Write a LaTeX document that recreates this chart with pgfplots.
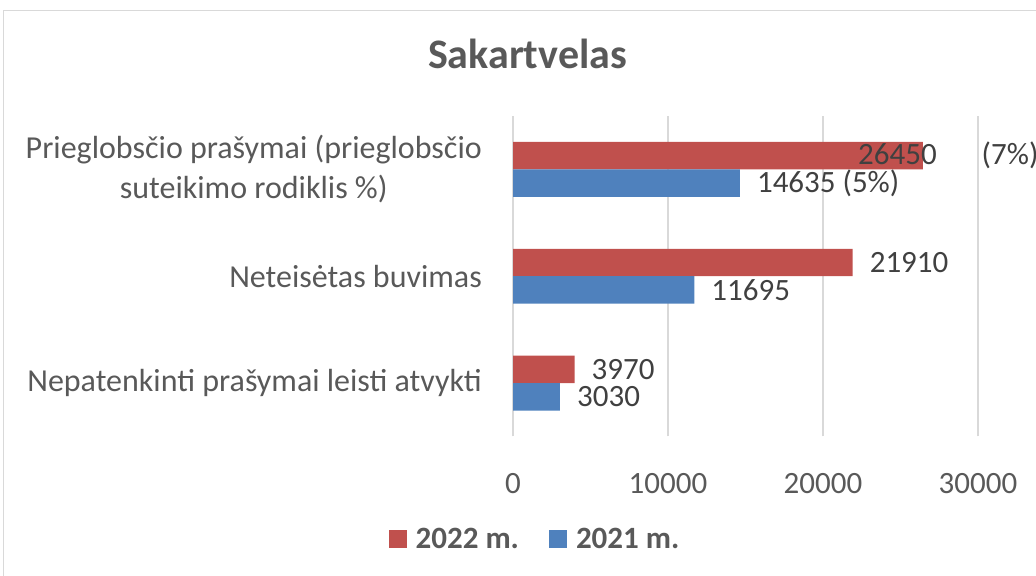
\documentclass[border=0pt]{standalone}
\usepackage{fontspec}
\setmainfont{Carlito}
\usepackage{pgfplots}
\pgfplotsset{compat=1.18}
\definecolor{cred}{HTML}{C0504D}
\definecolor{cblue}{HTML}{4F81BD}
\definecolor{txtgray}{HTML}{595959}
\definecolor{lblgray}{HTML}{404040}
\definecolor{gridgray}{HTML}{D9D9D9}
\begin{document}
\begin{tikzpicture}
\useasboundingbox (0bp,0bp) rectangle (1036bp,576bp);
\draw[gridgray, line width=1.5bp] (3.5bp,-20bp) rectangle (1060bp,565.5bp);
\node[anchor=base, text=txtgray, font=\fontsize{42bp}{50bp}\selectfont\bfseries, inner sep=0pt] at (527.5bp,507bp) {Sakartvelas};
\begin{axis}[
  at={(513bp,139.5bp)}, anchor=south west,
  scale only axis, width=465bp, height=320.5bp,
  xbar, bar width=0.257,
  xmin=0, xmax=30000, ymin=-0.5, ymax=2.5,
  scaled ticks=false,
  xtick={0,10000,20000,30000},
  xticklabels={0,10000,20000,30000},
  ytick={0,1,2},
  yticklabels={{Nepatenkinti prašymai leisti atvykti},{Neteisėtas buvimas},{Prieglobsčio prašymai (prieglobsčio\\suteikimo rodiklis \%)}},
  yticklabel style={align=center, anchor=east, inner sep=0pt, xshift=-31bp, text=txtgray, font=\fontsize{32bp}{40bp}\selectfont},
  xticklabel style={anchor=base, inner sep=0pt, yshift=-56.5bp, text=txtgray, font=\fontsize{31bp}{37bp}\selectfont},
  major tick length=0pt,
  axis line style={draw=none},
  xmajorgrids, grid style={gridgray, line width=1.3bp},
  clip=false,
  point meta=explicit symbolic,
  nodes near coords,
  every node near coord/.append style={anchor=west, inner sep=0pt, xshift=17bp, text=lblgray, font=\fontsize{31bp}{37bp}\selectfont},
  legend columns=2,
  legend image code/.code={\fill[#1, draw=none] (0bp,-9bp) rectangle (18bp,9bp);},
  legend style={at={(0.0452,-0.3198)}, anchor=center, draw=none, fill=none,
    font=\fontsize{31bp}{37bp}\selectfont\bfseries, text=txtgray,
    nodes={inner sep=0pt}, column sep=0pt,
    /tikz/every odd column/.append style={column sep=9bp},
    /tikz/every even column/.append style={column sep=30bp}},
]
\addplot[fill=cred, draw=none, bar shift=0.1285] coordinates {
  (3970,0) [3970]
  (21910,1) [21910]
  (26450,2) [{\hspace{-82bp}26450\hspace{45bp}(7\%)}]
};
\addlegendentry{2022 m.}
\addplot[fill=cblue, draw=none, bar shift=-0.1285] coordinates {
  (3030,0) [3030]
  (11695,1) [11695]
  (14635,2) [{14635 (5\%)}]
};
\addlegendentry{2021 m.}
\end{axis}
\end{tikzpicture}
\end{document}
